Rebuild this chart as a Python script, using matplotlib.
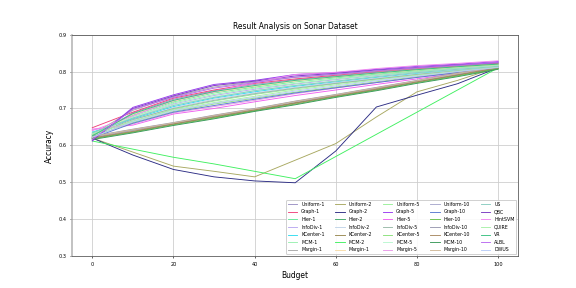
import matplotlib
matplotlib.use('Agg')
import matplotlib.pyplot as plt

# Budget (x axis)
budget = [0, 10, 20, 30, 40, 50, 60, 70, 80, 90, 100]

# Etiquetas de la leyenda (orden por columnas)
labels = ['Uniform-1', 'Graph-1', 'Hier-1', 'InfoDiv-1', 'KCenter-1', 'MCM-1', 'Margin-1',
          'Uniform-2', 'Graph-2', 'Hier-2', 'InfoDiv-2', 'KCenter-2', 'MCM-2', 'Margin-1',
          'Uniform-5', 'Graph-5', 'Hier-5', 'InfoDiv-5', 'KCenter-5', 'MCM-5', 'Margin-5',
          'Uniform-10', 'Graph-10', 'Hier-10', 'InfoDiv-10', 'KCenter-10', 'MCM-10', 'Margin-10',
          'US', 'QBC', 'HintSVM', 'QUIRE', 'VR', 'ALBL', 'DWUS']

colors = ['#9a90c4', '#f0407a', '#60e898', '#b8a8f0', '#30dcf0', '#98f0b0', '#a8a8a8',
          '#a8a860', '#2c2c84', '#40a868', '#c0d4e8', '#988850', '#40f060', '#f8dca8',
          '#98f098', '#9838f0', '#f060f0', '#98b8a8', '#88e078', '#b8f8d0', '#e898e8',
          '#a8a8cc', '#5878d0', '#68c048', '#9898b0', '#a88860', '#389858', '#d0b898',
          '#88ccc0', '#7838c0', '#f088f0', '#a8f0a8', '#38c080', '#b868f0', '#b8ccf8']

# Accuracy de cada estrategia
acc_uniform_1 = [0.625, 0.688, 0.725, 0.748, 0.765, 0.778, 0.788, 0.798, 0.806, 0.813, 0.820]
acc_graph_1 = [0.648, 0.690, 0.728, 0.750, 0.768, 0.780, 0.790, 0.800, 0.808, 0.815, 0.822]
acc_hier_1 = [0.632, 0.682, 0.718, 0.742, 0.758, 0.772, 0.783, 0.793, 0.802, 0.810, 0.818]
acc_infodiv_1 = [0.622, 0.675, 0.712, 0.735, 0.752, 0.766, 0.778, 0.789, 0.799, 0.808, 0.816]
acc_kcenter_1 = [0.636, 0.672, 0.705, 0.728, 0.745, 0.760, 0.772, 0.784, 0.795, 0.804, 0.813]
acc_mcm_1 = [0.628, 0.678, 0.715, 0.738, 0.755, 0.768, 0.780, 0.791, 0.800, 0.809, 0.817]
acc_margin_1 = [0.630, 0.695, 0.732, 0.758, 0.772, 0.784, 0.792, 0.801, 0.809, 0.816, 0.821]

acc_uniform_2 = [0.620, 0.582, 0.544, 0.530, 0.515, 0.560, 0.605, 0.677, 0.745, 0.776, 0.812]
acc_graph_2 = [0.620, 0.574, 0.535, 0.515, 0.504, 0.499, 0.585, 0.704, 0.736, 0.767, 0.810]
acc_hier_2 = [0.619, 0.637, 0.658, 0.676, 0.694, 0.715, 0.733, 0.751, 0.772, 0.790, 0.809]
acc_infodiv_2 = [0.618, 0.668, 0.702, 0.725, 0.742, 0.757, 0.770, 0.782, 0.793, 0.803, 0.812]
acc_kcenter_2 = [0.621, 0.641, 0.659, 0.679, 0.697, 0.716, 0.736, 0.754, 0.773, 0.791, 0.811]
acc_mcm_2 = [0.612, 0.590, 0.568, 0.550, 0.530, 0.510, 0.570, 0.630, 0.690, 0.750, 0.810]
acc_margin_1b = [0.626, 0.684, 0.720, 0.744, 0.760, 0.774, 0.785, 0.795, 0.804, 0.812, 0.819]

acc_uniform_5 = [0.630, 0.665, 0.698, 0.720, 0.738, 0.753, 0.767, 0.779, 0.791, 0.801, 0.811]
acc_graph_5 = [0.612, 0.703, 0.737, 0.765, 0.776, 0.792, 0.797, 0.806, 0.814, 0.820, 0.827]
acc_hier_5 = [0.644, 0.655, 0.685, 0.700, 0.718, 0.735, 0.750, 0.765, 0.780, 0.795, 0.812]
acc_infodiv_5 = [0.628, 0.670, 0.700, 0.722, 0.740, 0.755, 0.768, 0.780, 0.792, 0.802, 0.811]
acc_kcenter_5 = [0.624, 0.662, 0.692, 0.712, 0.728, 0.744, 0.758, 0.772, 0.786, 0.798, 0.810]
acc_mcm_5 = [0.632, 0.676, 0.710, 0.732, 0.749, 0.763, 0.775, 0.787, 0.797, 0.806, 0.815]
acc_margin_5 = [0.642, 0.658, 0.688, 0.705, 0.722, 0.740, 0.755, 0.770, 0.784, 0.797, 0.812]

acc_uniform_10 = [0.622, 0.641, 0.660, 0.680, 0.698, 0.718, 0.735, 0.755, 0.773, 0.793, 0.811]
acc_graph_10 = [0.620, 0.660, 0.690, 0.708, 0.725, 0.742, 0.756, 0.770, 0.784, 0.797, 0.809]
acc_hier_10 = [0.618, 0.636, 0.656, 0.674, 0.694, 0.712, 0.732, 0.750, 0.770, 0.788, 0.808]
acc_infodiv_10 = [0.625, 0.644, 0.662, 0.682, 0.700, 0.720, 0.738, 0.757, 0.776, 0.796, 0.813]
acc_kcenter_10 = [0.620, 0.638, 0.658, 0.677, 0.696, 0.714, 0.734, 0.752, 0.772, 0.791, 0.810]
acc_mcm_10 = [0.616, 0.634, 0.654, 0.672, 0.692, 0.710, 0.730, 0.748, 0.768, 0.786, 0.806]
acc_margin_10 = [0.624, 0.643, 0.661, 0.681, 0.699, 0.719, 0.737, 0.756, 0.775, 0.795, 0.812]

acc_us = [0.634, 0.674, 0.708, 0.730, 0.748, 0.762, 0.774, 0.786, 0.797, 0.806, 0.814]
acc_qbc = [0.614, 0.700, 0.734, 0.762, 0.774, 0.788, 0.795, 0.804, 0.811, 0.818, 0.824]
acc_hintsvm = [0.640, 0.680, 0.722, 0.745, 0.770, 0.792, 0.798, 0.808, 0.816, 0.822, 0.829]
acc_quire = [0.630, 0.666, 0.696, 0.716, 0.733, 0.750, 0.764, 0.777, 0.790, 0.801, 0.812]
acc_vr = [0.626, 0.686, 0.722, 0.746, 0.762, 0.776, 0.786, 0.796, 0.805, 0.813, 0.820]
acc_albl = [0.616, 0.698, 0.730, 0.755, 0.770, 0.785, 0.793, 0.802, 0.810, 0.817, 0.825]
acc_dwus = [0.622, 0.664, 0.694, 0.714, 0.730, 0.747, 0.761, 0.775, 0.788, 0.800, 0.811]

series = [acc_uniform_1, acc_graph_1, acc_hier_1, acc_infodiv_1, acc_kcenter_1, acc_mcm_1, acc_margin_1,
          acc_uniform_2, acc_graph_2, acc_hier_2, acc_infodiv_2, acc_kcenter_2, acc_mcm_2, acc_margin_1b,
          acc_uniform_5, acc_graph_5, acc_hier_5, acc_infodiv_5, acc_kcenter_5, acc_mcm_5, acc_margin_5,
          acc_uniform_10, acc_graph_10, acc_hier_10, acc_infodiv_10, acc_kcenter_10, acc_mcm_10, acc_margin_10,
          acc_us, acc_qbc, acc_hintsvm, acc_quire, acc_vr, acc_albl, acc_dwus]

fig, ax = plt.subplots(figsize=(8, 4), dpi=72)

for vals, lab, col in zip(series, labels, colors):
    ax.plot(budget, vals, color=col, linewidth=0.9, label=lab)

ax.set_ylim(0.3, 0.9)
ax.set_xticks([0, 20, 40, 60, 80, 100])
ax.grid(True, color='#cccccc', linewidth=0.8)
ax.set_axisbelow(True)
ax.tick_params(labelsize=5, length=2, width=0.6)
for s in ['top', 'right', 'bottom']:
    ax.spines[s].set_color('#555555')
    ax.spines[s].set_linewidth(0.8)
ax.spines['left'].set_color('#b5b5b5')
ax.spines['left'].set_linewidth(1.6)

ax.set_title('Result Analysis on Sonar Dataset', fontsize=7.5)
ax.set_xlabel('Budget', fontsize=7.5)
ax.set_ylabel('Accuracy', fontsize=7.5)

ax.legend(loc='lower right', ncol=5, fontsize=4.8, framealpha=0.9,
          handlelength=2.0, columnspacing=2.2, labelspacing=0.55,
          borderaxespad=0.4)

fig.savefig('out.png', dpi=72)
